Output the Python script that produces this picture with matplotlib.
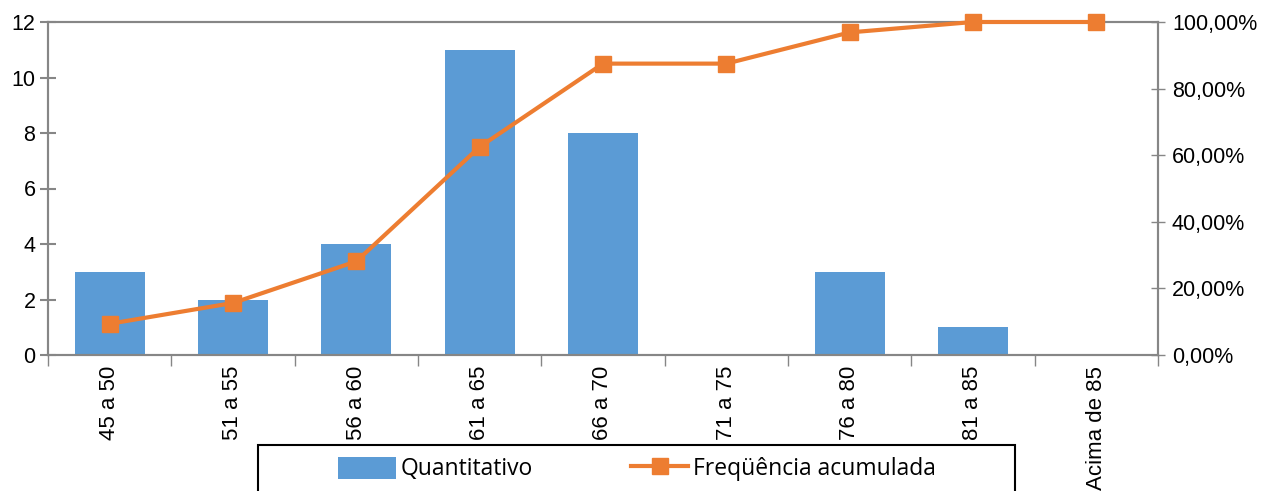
import numpy as np
import matplotlib.pyplot as plt
from matplotlib.ticker import FuncFormatter
from matplotlib.patches import Rectangle

# dados
faixas = ['45 a 50', '51 a 55', '56 a 60', '61 a 65', '66 a 70',
          '71 a 75', '76 a 80', '81 a 85', 'Acima de 85']
quantitativo = [3, 2, 4, 11, 8, 0, 3, 1, 0]
freq_acumulada = [0.09375, 0.15625, 0.28125, 0.625, 0.875,
                  0.875, 0.96875, 1.0, 1.0]

azul = '#5B9BD5'
laranja = '#ED7D31'
cinza = '#868686'

plt.rcParams['font.family'] = ['Liberation Sans', 'DejaVu Sans']

fig = plt.figure(figsize=(12.61, 4.91), dpi=100)
ax = fig.add_axes([48 / 1261, 1 - 355 / 491, 1110 / 1261, 333 / 491])
x = np.arange(len(faixas))

ax.bar(x, quantitativo, width=0.57, color=azul, zorder=2, label='Quantitativo')
ax.set_xlim(-0.5, len(faixas) - 0.5)
ax.set_ylim(0, 12)
ax.set_yticks(range(0, 13, 2))
ax.tick_params(axis='y', labelsize=15.5, direction='inout', length=12, width=1.5,
               color=cinza, pad=3)

# ticks do eixo x nas fronteiras entre categorias
ax.set_xticks(x)
ax.set_xticklabels(faixas, rotation=90, fontsize=16, va='top')
ax.tick_params(axis='x', length=0, pad=8)
ax.set_xticks(np.arange(-0.5, len(faixas), 1), minor=True)
ax.tick_params(axis='x', which='minor', length=8, width=1, color=cinza)

for s in ax.spines.values():
    s.set_color(cinza)
    s.set_linewidth(1.5)

ax2 = ax.twinx()
ax2.plot(x, freq_acumulada, color=laranja, lw=3, marker='s', ms=11,
         zorder=3, clip_on=False, label='Freqüência acumulada')
ax2.set_ylim(0, 1)
ax2.set_yticks(np.arange(0, 1.01, 0.2))
ax2.yaxis.set_major_formatter(FuncFormatter(lambda v, p: f'{v * 100:.2f}%'.replace('.', ',')))
ax2.tick_params(axis='y', labelsize=15.5, direction='inout', length=10, width=1,
                color=cinza, pad=5)
for s in ax2.spines.values():
    s.set_color(cinza)
    s.set_linewidth(1.5)

# caixa da legenda
caixa = Rectangle((258 / 1261, -0.02), 757 / 1261, (491 - 445) / 491 + 0.02,
                  transform=fig.transFigure, facecolor='white', edgecolor='black',
                  linewidth=1.5, zorder=9)
fig.patches.append(caixa)

h1, l1 = ax.get_legend_handles_labels()
h2, l2 = ax2.get_legend_handles_labels()
leg = fig.legend(h1 + h2, l1 + l2, loc='center',
                 bbox_to_anchor=(637 / 1261, 1 - 469 / 491),
                 ncol=2, frameon=False,
                 prop={'family': 'Open Sans', 'size': 16.5}, handlelength=2.5,
                 handleheight=1.1, handletextpad=0.2, columnspacing=4.3)
leg.set_zorder(10)

fig.savefig('out.png', dpi=100)
